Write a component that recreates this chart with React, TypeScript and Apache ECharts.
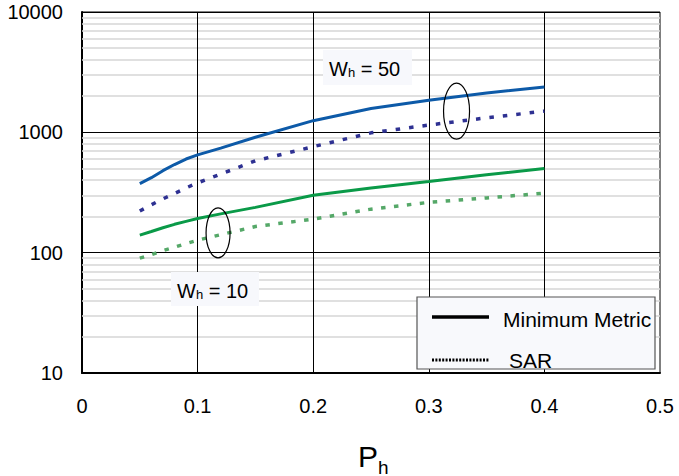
import React, { useEffect, useRef } from 'react';
import * as echarts from 'echarts';

const ph = [0.05, 0.06, 0.07, 0.08, 0.09, 0.1, 0.12, 0.15, 0.2, 0.25, 0.3, 0.35, 0.4];
const mmW50 = [375, 420, 480, 540, 600, 650, 740, 910, 1250, 1580, 1850, 2120, 2380];
const sarW50 = [222, 250, 280, 310, 345, 380, 450, 580, 760, 990, 1150, 1320, 1500];
const mmW10 = [140, 150, 161, 172, 182, 192, 210, 238, 300, 345, 390, 445, 500];
const sarW10 = [90, 96, 104, 111, 119, 127, 141, 165, 190, 230, 262, 285, 312];

const yTicks = [10, 100, 1000, 10000];
const xTicks = [0, 0.1, 0.2, 0.3, 0.4, 0.5];
const minorGrid = [20, 30, 40, 50, 60, 70, 80, 90, 200, 300, 400, 500, 600, 700, 800, 900, 2000, 3000, 4000, 5000, 6000, 7000, 8000, 9000];
const verticalGrid = [0.1, 0.2, 0.3, 0.4];

const legendNames = ['Minimum Metric', 'SAR'];
const label50 = 'W_h = 50';
const label10 = 'W_h = 10';

const FONT = '"Liberation Sans", Arial, Helvetica, sans-serif';

function pairs(xs: number[], ys: number[]) {
  return xs.map((x, i) => [x, ys[i]]);
}

export default function App() {
  const ref = useRef<HTMLDivElement>(null);
  useEffect(() => {
    if (!ref.current) return;
    const chart = echarts.init(ref.current, undefined, { renderer: 'svg' });
    const lineSeries = (name: string, data: number[], color: string, dash: any, width: number) => ({
      type: 'line',
      name,
      data: pairs(ph, data),
      showSymbol: false,
      symbol: 'none',
      z: 5,
      silent: true,
      lineStyle: { color, width, type: dash, cap: 'butt' },
    });
    chart.setOption({
      animation: false,
      backgroundColor: '#ffffff',
      grid: {
        left: 82,
        right: 19,
        top: 12,
        bottom: 103,
        show: true,
        borderColor: '#000',
        borderWidth: 1,
        backgroundColor: 'transparent',
      },
      xAxis: {
        type: 'value',
        min: 0,
        max: 0.5,
        interval: 0.1,
        axisLine: { show: true, onZero: false, lineStyle: { color: '#000', width: 2 } },
        axisTick: { show: false },
        splitLine: { show: false },
        axisLabel: {
          color: '#000',
          fontSize: 20,
          fontFamily: FONT,
          margin: 23,
          formatter: (v: number) => {
            const t = xTicks.find((k) => Math.abs(k - v) < 1e-9);
            return t === 0 ? '0' : (t ?? v).toFixed(1);
          },
        },
      },
      yAxis: {
        type: 'log',
        logBase: 10,
        min: yTicks[0],
        max: yTicks[yTicks.length - 1],
        axisLine: { show: true, onZero: false, lineStyle: { color: '#000', width: 2 } },
        axisTick: { show: false },
        splitLine: { show: true, lineStyle: { color: '#000', width: 1 } },
        minorTick: { show: false },
        axisLabel: {
          color: '#000',
          fontSize: 20,
          fontFamily: FONT,
          margin: 19,
          padding: [5, 0, 0, 0],
          formatter: (v: number) => {
            const t = yTicks.find((k) => Math.abs(k - v) / k < 1e-6) ?? Math.round(v);
            return String(t);
          },
        },
      },
      series: [
        {
          type: 'line',
          name: 'grid',
          data: [[0.05, 100]],
          showSymbol: false,
          symbol: 'none',
          lineStyle: { opacity: 0 },
          z: 1,
          silent: true,
          markLine: {
            silent: true,
            symbol: ['none', 'none'],
            label: { show: false },
            animation: false,
            data: [
              ...minorGrid.map((v) => ({ yAxis: v, lineStyle: { color: '#d6d6d6', width: 1.5, type: 'solid' } })),
              ...verticalGrid.map((v) => ({ xAxis: v, lineStyle: { color: '#000', width: 1, type: 'solid' } })),
            ],
          },
        },
        lineSeries('MM W50', mmW50, '#0d5aa8', 'solid', 3),
        lineSeries('SAR W50', sarW50, '#2e3192', [4.5, 9], 3.5),
        lineSeries('MM W10', mmW10, '#0a9a48', 'solid', 3),
        lineSeries('SAR W10', sarW10, '#55a868', [4.5, 8.5], 3.5),
      ],
    });

    const e1 = chart.convertToPixel({ gridIndex: 0 }, [0.324, 1500]) as number[];
    const e2 = chart.convertToPixel({ gridIndex: 0 }, [0.1177, 146]) as number[];

    const richLabel = (txt: string) => {
      const [w, rest] = txt.split('_');
      return `{a|${w}}{b|${rest[0]}}{a|${rest.slice(1)}}`;
    };
    const rich = {
      a: { fontSize: 20, fontFamily: FONT, fill: '#000', verticalAlign: 'bottom' },
      b: { fontSize: 13, fontFamily: FONT, fill: '#000', verticalAlign: 'bottom' },
    };

    chart.setOption({
      graphic: [
        { type: 'ellipse', z: 50, silent: true, shape: { cx: e1[0], cy: e1[1], rx: 13, ry: 28 }, style: { fill: 'none', stroke: '#000', lineWidth: 1.2 } },
        { type: 'ellipse', z: 50, silent: true, shape: { cx: e2[0], cy: e2[1], rx: 12, ry: 25 }, style: { fill: 'none', stroke: '#000', lineWidth: 1.2 } },
        { type: 'rect', z: 50, silent: true, shape: { x: 323, y: 50, width: 89, height: 35 }, style: { fill: '#f7f8fc' } },
        { type: 'text', z: 51, silent: true, x: 329, y: 79, style: { text: richLabel(label50), rich, fill: '#000', verticalAlign: 'bottom', align: 'left' } },
        { type: 'rect', z: 50, silent: true, shape: { x: 171, y: 272, width: 88, height: 34 }, style: { fill: '#f7f8fc' } },
        { type: 'text', z: 51, silent: true, x: 177, y: 301, style: { text: richLabel(label10), rich, fill: '#000', verticalAlign: 'bottom', align: 'left' } },
        // legend
        { type: 'rect', z: 60, silent: true, shape: { x: 417, y: 297, width: 238, height: 72 }, style: { fill: '#f8f9fc', stroke: '#555', lineWidth: 1.2 } },
        { type: 'line', z: 61, silent: true, shape: { x1: 432, y1: 317, x2: 489, y2: 317 }, style: { stroke: '#000', lineWidth: 3.5 } },
        { type: 'line', z: 61, silent: true, shape: { x1: 432, y1: 360, x2: 489, y2: 360 }, style: { stroke: '#000', lineWidth: 3, lineDash: [2, 1.4] } },
        { type: 'text', z: 61, silent: true, x: 503, y: 319, style: { text: legendNames[0], fontSize: 21, fontFamily: FONT, fill: '#000', verticalAlign: 'middle', align: 'left' } },
        { type: 'text', z: 61, silent: true, x: 509, y: 360, style: { text: legendNames[1], fontSize: 21, fontFamily: FONT, fill: '#000', verticalAlign: 'middle', align: 'left' } },
        // x axis title
        { type: 'text', z: 61, silent: true, x: 358, y: 456, style: { text: 'P', fontSize: 30, fontFamily: FONT, fill: '#000', verticalAlign: 'middle', align: 'left' } },
        { type: 'text', z: 61, silent: true, x: 378, y: 467, style: { text: 'h', fontSize: 19, fontFamily: FONT, fill: '#000', verticalAlign: 'middle', align: 'left' } },
      ],
    });

    return () => chart.dispose();
  }, []);
  return <div ref={ref} style={{ position: 'fixed', left: 0, top: 0, width: 679, height: 476 }} />;
}
